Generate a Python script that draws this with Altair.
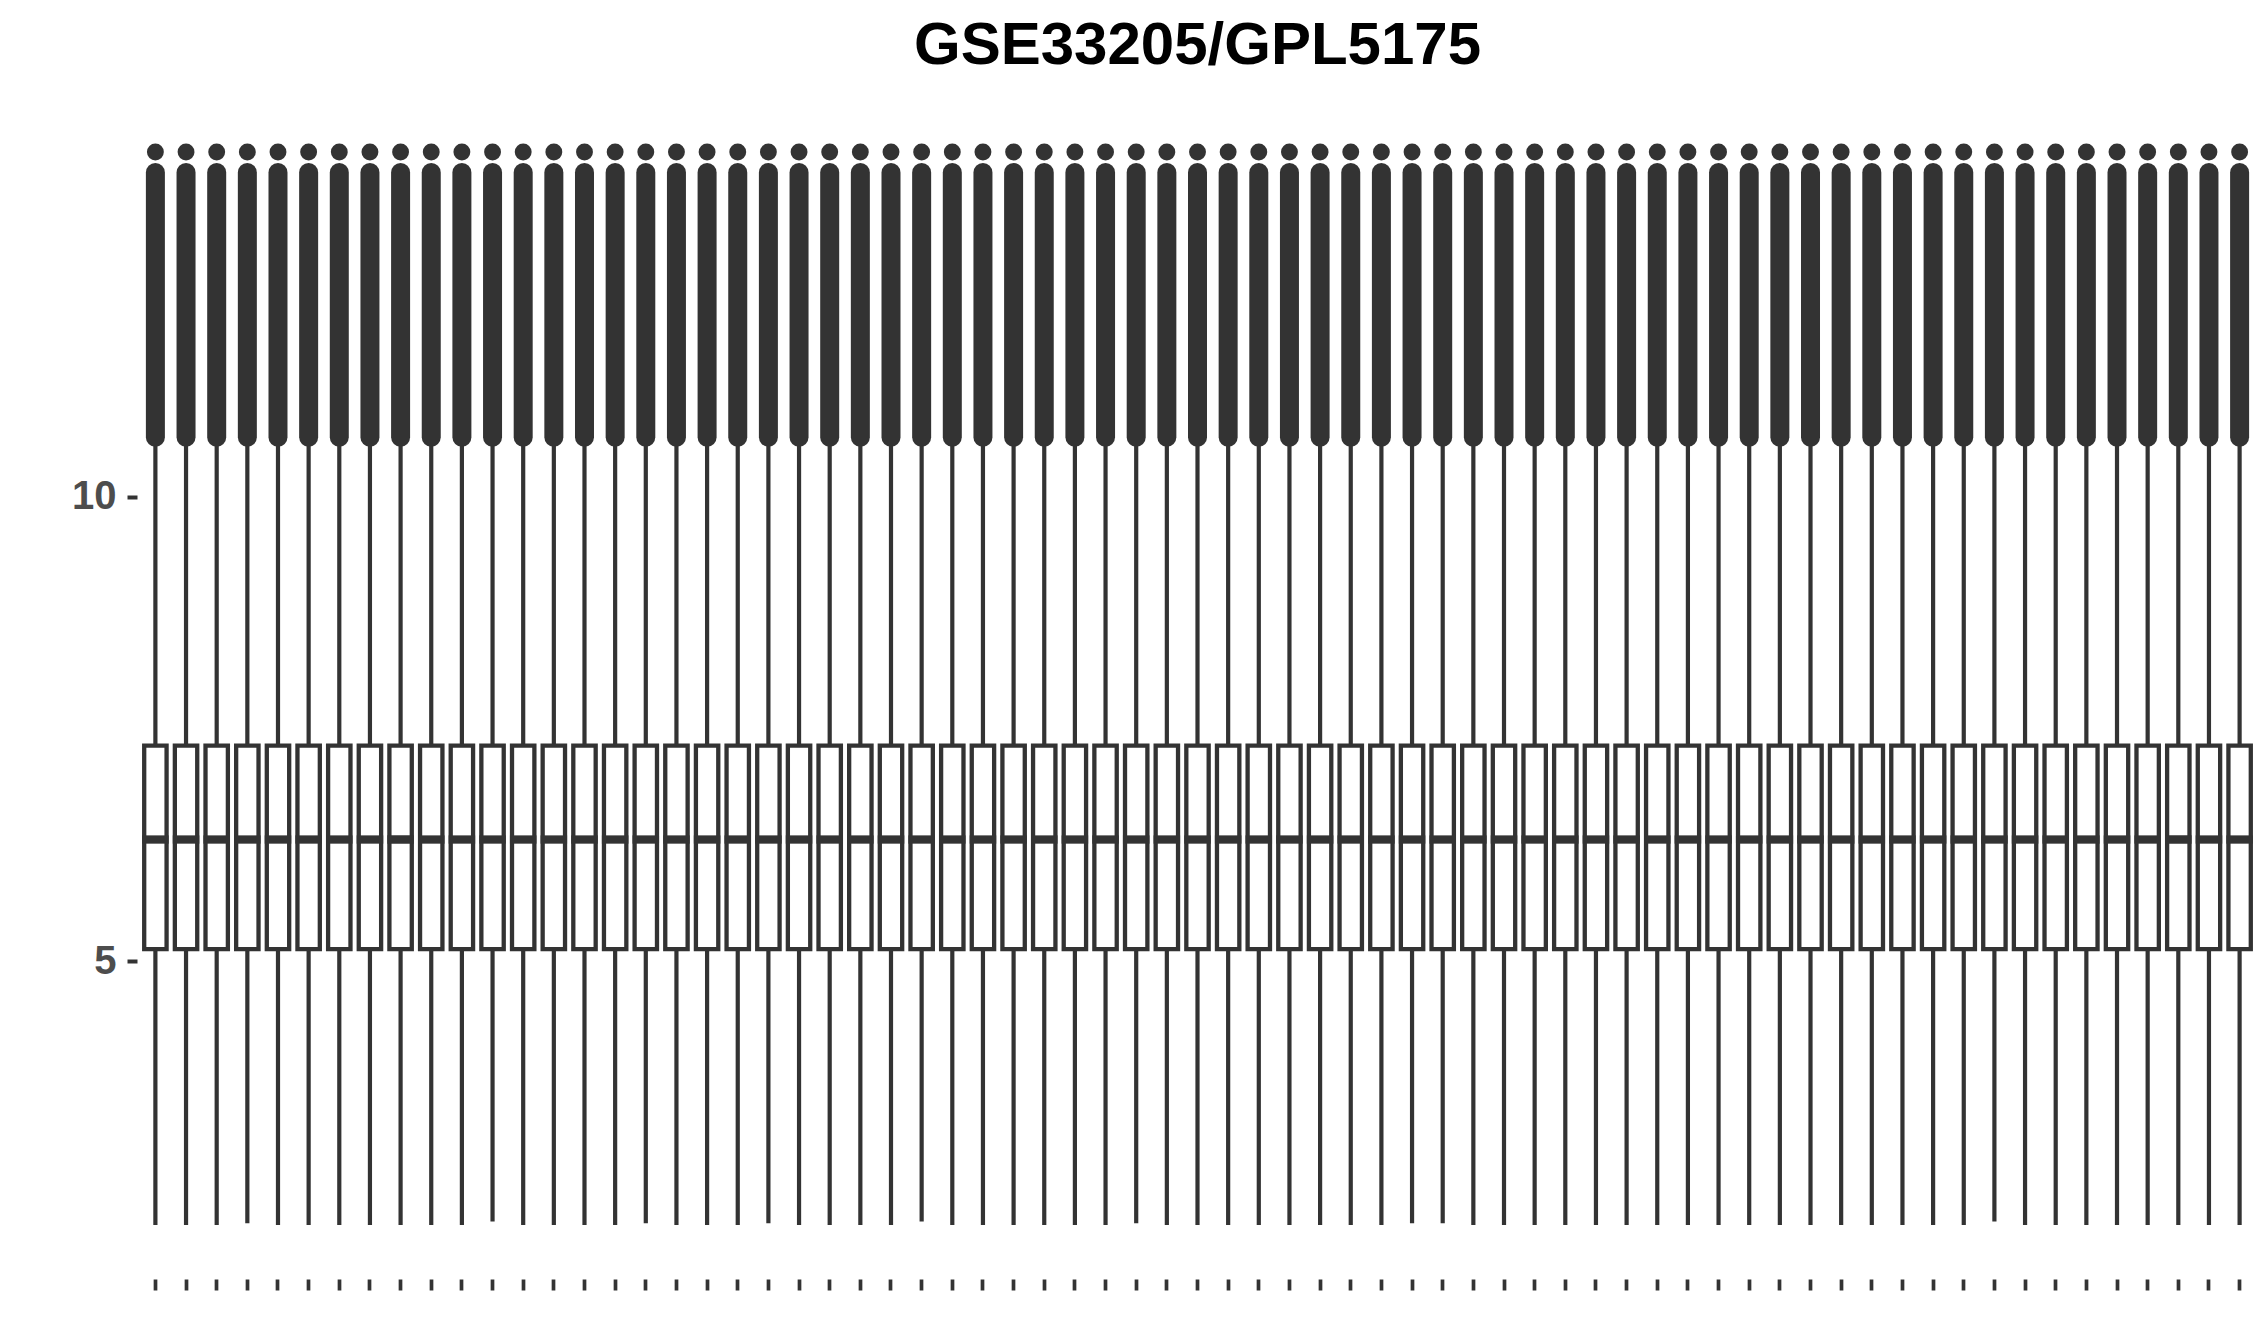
import altair as alt
import pandas as pd

# 69 samples (no x labels shown in the reference)
samples = [f"S{i:02d}" for i in range(1, 70)]

lower_whisker = [
    2.16, 2.16, 2.16, 2.18, 2.16, 2.16, 2.16, 2.16, 2.16, 2.16, 2.16, 2.20, 2.16, 2.16, 2.16, 2.16, 2.18, 2.16, 2.16, 2.16, 2.18, 2.16, 2.16,
    2.16, 2.16, 2.20, 2.16, 2.16, 2.16, 2.16, 2.16, 2.16, 2.18, 2.16, 2.16, 2.16, 2.16, 2.16, 2.16, 2.16, 2.16, 2.18, 2.18, 2.16, 2.16, 2.16,
    2.16, 2.16, 2.16, 2.16, 2.16, 2.16, 2.16, 2.16, 2.16, 2.16, 2.16, 2.16, 2.16, 2.16, 2.20, 2.16, 2.16, 2.16, 2.16, 2.16, 2.16, 2.16, 2.16,
]
q1 = [
    5.13, 5.13, 5.13, 5.13, 5.13, 5.13, 5.13, 5.13, 5.13, 5.13, 5.13, 5.13, 5.13, 5.13, 5.13, 5.13, 5.13, 5.13, 5.13, 5.13, 5.13, 5.13, 5.13,
    5.13, 5.13, 5.13, 5.13, 5.13, 5.13, 5.13, 5.13, 5.13, 5.13, 5.13, 5.13, 5.13, 5.13, 5.13, 5.13, 5.13, 5.13, 5.13, 5.13, 5.13, 5.13, 5.13,
    5.13, 5.13, 5.13, 5.13, 5.13, 5.13, 5.13, 5.13, 5.13, 5.13, 5.13, 5.13, 5.13, 5.13, 5.13, 5.13, 5.13, 5.13, 5.13, 5.13, 5.13, 5.13, 5.13,
]
median = [
    6.31, 6.31, 6.31, 6.31, 6.31, 6.31, 6.31, 6.31, 6.31, 6.31, 6.31, 6.31, 6.31, 6.31, 6.31, 6.31, 6.31, 6.31, 6.31, 6.31, 6.31, 6.31, 6.31,
    6.31, 6.31, 6.31, 6.31, 6.31, 6.31, 6.31, 6.31, 6.31, 6.31, 6.31, 6.31, 6.31, 6.31, 6.31, 6.31, 6.31, 6.31, 6.31, 6.31, 6.31, 6.31, 6.31,
    6.31, 6.31, 6.31, 6.31, 6.31, 6.31, 6.31, 6.31, 6.31, 6.31, 6.31, 6.31, 6.31, 6.31, 6.31, 6.31, 6.31, 6.31, 6.31, 6.31, 6.31, 6.31, 6.31,
]
q3 = [
    7.32, 7.32, 7.32, 7.32, 7.32, 7.32, 7.32, 7.32, 7.32, 7.32, 7.32, 7.32, 7.32, 7.32, 7.32, 7.32, 7.32, 7.32, 7.32, 7.32, 7.32, 7.32, 7.32,
    7.32, 7.32, 7.32, 7.32, 7.32, 7.32, 7.32, 7.32, 7.32, 7.32, 7.32, 7.32, 7.32, 7.32, 7.32, 7.32, 7.32, 7.32, 7.32, 7.32, 7.32, 7.32, 7.32,
    7.32, 7.32, 7.32, 7.32, 7.32, 7.32, 7.32, 7.32, 7.32, 7.32, 7.32, 7.32, 7.32, 7.32, 7.32, 7.32, 7.32, 7.32, 7.32, 7.32, 7.32, 7.32, 7.32,
]
upper_whisker = [
    10.60, 10.60, 10.60, 10.60, 10.60, 10.60, 10.60, 10.60, 10.60, 10.60, 10.60, 10.60, 10.60, 10.60, 10.60, 10.60, 10.60, 10.60, 10.60, 10.60, 10.60, 10.60, 10.60,
    10.60, 10.60, 10.60, 10.60, 10.60, 10.60, 10.60, 10.60, 10.60, 10.60, 10.60, 10.60, 10.60, 10.60, 10.60, 10.60, 10.60, 10.60, 10.60, 10.60, 10.60, 10.60, 10.60,
    10.60, 10.60, 10.60, 10.60, 10.60, 10.60, 10.60, 10.60, 10.60, 10.60, 10.60, 10.60, 10.60, 10.60, 10.60, 10.60, 10.60, 10.60, 10.60, 10.60, 10.60, 10.60, 10.60,
]
# dense run of outliers (lowest and highest of the packed column)
outlier_low = [
    10.64, 10.64, 10.64, 10.64, 10.64, 10.64, 10.64, 10.64, 10.64, 10.64, 10.64, 10.64, 10.64, 10.64, 10.64, 10.64, 10.64, 10.64, 10.64, 10.64, 10.64, 10.64, 10.64,
    10.64, 10.64, 10.64, 10.64, 10.64, 10.64, 10.64, 10.64, 10.64, 10.64, 10.64, 10.64, 10.64, 10.64, 10.64, 10.64, 10.64, 10.64, 10.64, 10.64, 10.64, 10.64, 10.64,
    10.64, 10.64, 10.64, 10.64, 10.64, 10.64, 10.64, 10.64, 10.64, 10.64, 10.64, 10.64, 10.64, 10.64, 10.64, 10.64, 10.64, 10.64, 10.64, 10.64, 10.64, 10.64, 10.64,
]
outlier_high = [
    13.49, 13.49, 13.49, 13.49, 13.49, 13.49, 13.49, 13.49, 13.49, 13.49, 13.49, 13.49, 13.49, 13.49, 13.49, 13.49, 13.49, 13.49, 13.49, 13.49, 13.49, 13.49, 13.49,
    13.49, 13.49, 13.49, 13.49, 13.49, 13.49, 13.49, 13.49, 13.49, 13.49, 13.49, 13.49, 13.49, 13.49, 13.49, 13.49, 13.49, 13.49, 13.49, 13.49, 13.49, 13.49, 13.49,
    13.49, 13.49, 13.49, 13.49, 13.49, 13.49, 13.49, 13.49, 13.49, 13.49, 13.49, 13.49, 13.49, 13.49, 13.49, 13.49, 13.49, 13.49, 13.49, 13.49, 13.49, 13.49, 13.49,
]
top_outlier = [
    13.71, 13.71, 13.71, 13.71, 13.71, 13.71, 13.71, 13.71, 13.71, 13.71, 13.71, 13.71, 13.71, 13.71, 13.71, 13.71, 13.71, 13.71, 13.71, 13.71, 13.71, 13.71, 13.71,
    13.71, 13.71, 13.71, 13.71, 13.71, 13.71, 13.71, 13.71, 13.71, 13.71, 13.71, 13.71, 13.71, 13.71, 13.71, 13.71, 13.71, 13.71, 13.71, 13.71, 13.71, 13.71, 13.71,
    13.71, 13.71, 13.71, 13.71, 13.71, 13.71, 13.71, 13.71, 13.71, 13.71, 13.71, 13.71, 13.71, 13.71, 13.71, 13.71, 13.71, 13.71, 13.71, 13.71, 13.71, 13.71, 13.71,
]
y_ticks = [5, 10]

df = pd.DataFrame({
    "sample": samples, "lw": lower_whisker, "q1": q1, "med": median, "q3": q3,
    "uw": upper_whisker, "olo": outlier_low, "ohi": outlier_high, "top": top_outlier,
})

INK = "#333333"
FONT = "Liberation Sans"

xenc = alt.X(
    "sample:N", sort=samples, title=None,
    scale=alt.Scale(paddingInner=0, paddingOuter=0.1),
    axis=alt.Axis(labels=False, domain=False, grid=False, ticks=True,
                  tickSize=11, tickWidth=3.7, tickColor=INK),
)
ysc = alt.Scale(domain=[1.58, 14.28], nice=False, zero=False)
yax = alt.Axis(values=y_ticks, title=None, domain=False, grid=False,
               tickSize=10, tickWidth=4, tickColor=INK,
               labelFont=FONT, labelFontSize=40, labelFontWeight="bold",
               labelColor="#4D4D4D", labelPadding=11)

base = alt.Chart(df).encode(x=xenc)

lower = base.mark_rule(color=INK, strokeWidth=4.2).encode(
    y=alt.Y("lw:Q", scale=ysc, axis=yax), y2="q1:Q")
upper = base.mark_rule(color=INK, strokeWidth=4.2).encode(
    y=alt.Y("q3:Q", scale=ysc, axis=yax), y2="uw:Q")
column = base.mark_rule(color=INK, strokeWidth=19, strokeCap="round").encode(
    y=alt.Y("olo:Q", scale=ysc, axis=yax), y2="ohi:Q")
topdot = base.mark_circle(color=INK, size=285, opacity=1).encode(
    y=alt.Y("top:Q", scale=ysc, axis=yax))
box = base.mark_bar(fill="white", stroke=INK, strokeWidth=4.3,
                    width=alt.RelativeBandSize(0.73)).encode(
    y=alt.Y("q1:Q", scale=ysc, axis=yax), y2="q3:Q")
med = base.mark_tick(color=INK, thickness=8.3, size=26.5, opacity=1).encode(
    y=alt.Y("med:Q", scale=ysc, axis=yax))

chart = alt.layer(lower, upper, column, topdot, box, med).properties(
    width=2121, height=1180,
    title=alt.TitleParams("GSE33205/GPL5175", font=FONT, fontSize=60,
                          fontWeight="bold", color="#000000",
                          anchor="middle", offset=22),
    autosize=alt.AutoSizeParams(type="none"),
    padding={"left": 137, "top": 99, "right": 9, "bottom": 64},
    background="white",
).configure_view(stroke=None)

chart.save("out.html", embed_options={"renderer": "svg", "actions": False})
